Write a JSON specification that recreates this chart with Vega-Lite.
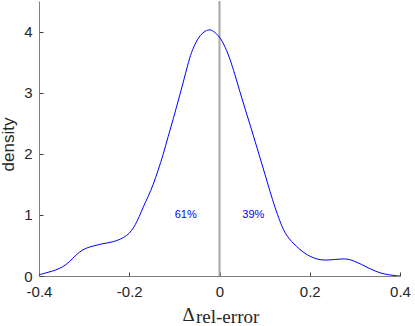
{
  "$schema": "https://vega.github.io/schema/vega-lite/v6.json",
  "width": 361,
  "height": 275,
  "autosize": {"type": "none"},
  "padding": {"left": 39, "top": 1, "right": 15, "bottom": 50},
  "background": "white",
  "config": {
    "view": {"stroke": null},
    "axis": {
      "domainColor": "#7f7f7f",
      "tickColor": "#404040",
      "labelColor": "#262626",
      "titleColor": "#262626",
      "labelFont": "Liberation Sans",
      "labelFontSize": 15,
      "titleFont": "Liberation Sans",
      "grid": false,
      "tickSize": -4,
      "labelFlush": false,
      "labelOverlap": false
    }
  },
  "title": {
    "text": "rel-error",
    "orient": "bottom",
    "anchor": "start",
    "frame": "group",
    "font": "Liberation Serif",
    "fontSize": 19,
    "fontWeight": "normal",
    "color": "#262626",
    "baseline": "alphabetic",
    "offset": 0,
    "dx": 157,
    "dy": -1
  },
  "datasets": {
    "curve": [
      {"x": -0.400, "density": 0.02},
      {"x": -0.385, "density": 0.05},
      {"x": -0.370, "density": 0.08},
      {"x": -0.355, "density": 0.12},
      {"x": -0.340, "density": 0.18},
      {"x": -0.325, "density": 0.29},
      {"x": -0.310, "density": 0.40},
      {"x": -0.295, "density": 0.46},
      {"x": -0.280, "density": 0.49},
      {"x": -0.265, "density": 0.52},
      {"x": -0.250, "density": 0.54},
      {"x": -0.235, "density": 0.56},
      {"x": -0.220, "density": 0.60},
      {"x": -0.205, "density": 0.66},
      {"x": -0.195, "density": 0.74},
      {"x": -0.187, "density": 0.83},
      {"x": -0.178, "density": 0.97},
      {"x": -0.169, "density": 1.13},
      {"x": -0.158, "density": 1.30},
      {"x": -0.147, "density": 1.49},
      {"x": -0.136, "density": 1.73},
      {"x": -0.125, "density": 1.98},
      {"x": -0.114, "density": 2.28},
      {"x": -0.102, "density": 2.58},
      {"x": -0.091, "density": 2.88},
      {"x": -0.080, "density": 3.18},
      {"x": -0.071, "density": 3.44},
      {"x": -0.062, "density": 3.67},
      {"x": -0.052, "density": 3.83},
      {"x": -0.043, "density": 3.94},
      {"x": -0.032, "density": 4.01},
      {"x": -0.021, "density": 4.04},
      {"x": -0.010, "density": 3.99},
      {"x": 0.003, "density": 3.89},
      {"x": 0.013, "density": 3.74},
      {"x": 0.023, "density": 3.56},
      {"x": 0.034, "density": 3.30},
      {"x": 0.045, "density": 3.02},
      {"x": 0.056, "density": 2.75},
      {"x": 0.068, "density": 2.47},
      {"x": 0.079, "density": 2.20},
      {"x": 0.090, "density": 1.93},
      {"x": 0.101, "density": 1.66},
      {"x": 0.112, "density": 1.38},
      {"x": 0.123, "density": 1.12},
      {"x": 0.134, "density": 0.89},
      {"x": 0.142, "density": 0.75},
      {"x": 0.150, "density": 0.65},
      {"x": 0.160, "density": 0.56},
      {"x": 0.170, "density": 0.49},
      {"x": 0.180, "density": 0.42},
      {"x": 0.195, "density": 0.34},
      {"x": 0.210, "density": 0.29},
      {"x": 0.225, "density": 0.26},
      {"x": 0.240, "density": 0.26},
      {"x": 0.255, "density": 0.27},
      {"x": 0.270, "density": 0.28},
      {"x": 0.285, "density": 0.28},
      {"x": 0.300, "density": 0.24},
      {"x": 0.315, "density": 0.19},
      {"x": 0.330, "density": 0.13},
      {"x": 0.345, "density": 0.08},
      {"x": 0.360, "density": 0.04},
      {"x": 0.375, "density": 0.02},
      {"x": 0.390, "density": 0.005},
      {"x": 0.400, "density": 0.0}
    ],
    "zero": [{"x": 0}],
    "labels": [
      {"x": -0.075, "density": 1, "label": "61%"},
      {"x": 0.075, "density": 1, "label": "39%"}
    ]
  },
  "layer": [
    {
      "data": {"name": "zero"},
      "mark": {"type": "rule", "color": "#a6a6a6", "strokeWidth": 2},
      "encoding": {
        "x": {"field": "x", "type": "quantitative"}
      }
    },
    {
      "data": {"name": "curve"},
      "mark": {"type": "line", "color": "#0000ff", "strokeWidth": 1, "interpolate": "basis", "clip": true},
      "encoding": {
        "x": {
          "field": "x",
          "type": "quantitative",
          "scale": {"domain": [-0.4, 0.4], "nice": false, "zero": false},
          "axis": {
            "values": [-0.4, -0.2, 0, 0.2, 0.4],
            "labelExpr": "'' + datum.value",
            "labelPadding": 12,
            "title": "Δ",
            "titleFont": "Liberation Serif",
            "titleFontSize": 19,
            "titleFontWeight": "normal",
            "titleX": 149,
            "titleY": 44,
            "titleAlign": "center",
            "titleBaseline": "alphabetic"
          }
        },
        "y": {
          "field": "density",
          "type": "quantitative",
          "scale": {"domain": [0, 4.5], "nice": false},
          "axis": {
            "values": [0, 1, 2, 3, 4],
            "labelExpr": "'' + datum.value",
            "labelPadding": 11,
            "title": "density",
            "titleFontSize": 17,
            "titleFontWeight": "normal",
            "titleX": -26,
            "titleY": 143,
            "titleAngle": -90,
            "titleAlign": "center",
            "titleBaseline": "alphabetic"
          }
        }
      }
    },
    {
      "data": {"name": "labels"},
      "mark": {"type": "text", "color": "#0000ff", "font": "Liberation Sans", "fontSize": 11, "baseline": "middle", "align": "center"},
      "encoding": {
        "x": {"field": "x", "type": "quantitative"},
        "y": {"field": "density", "type": "quantitative"},
        "text": {"field": "label"}
      }
    }
  ]
}
